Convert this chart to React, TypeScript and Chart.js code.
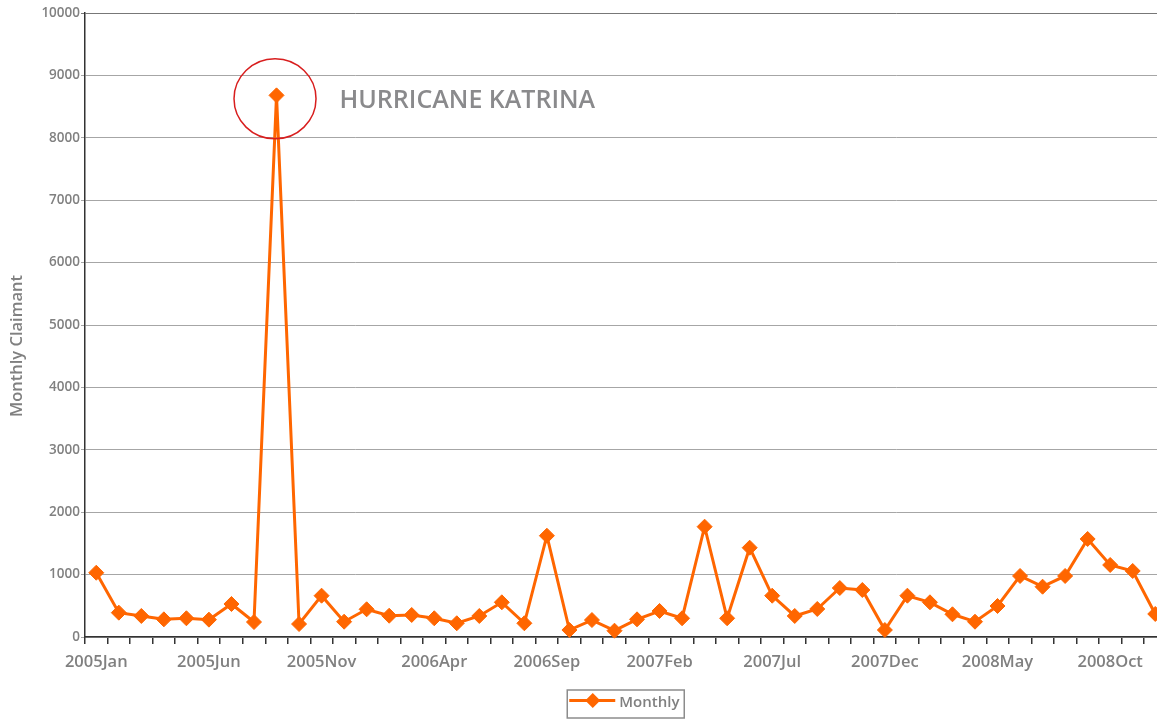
import { useEffect, useRef } from "react";
import { Chart, registerables } from "chart.js";

Chart.register(...registerables);

// Month labels along the x axis (every month, only every fifth one is printed)
const categories = [
  "2005Jan", "2005Feb", "2005Mar", "2005Apr", "2005May", "2005Jun",
  "2005Jul", "2005Aug", "2005Sep", "2005Oct", "2005Nov", "2005Dec",
  "2006Jan", "2006Feb", "2006Mar", "2006Apr", "2006May", "2006Jun",
  "2006Jul", "2006Aug", "2006Sep", "2006Oct", "2006Nov", "2006Dec",
  "2007Jan", "2007Feb", "2007Mar", "2007Apr", "2007May", "2007Jun",
  "2007Jul", "2007Aug", "2007Sep", "2007Oct", "2007Nov", "2007Dec",
  "2008Jan", "2008Feb", "2008Mar", "2008Apr", "2008May", "2008Jun",
  "2008Jul", "2008Aug", "2008Sep", "2008Oct", "2008Nov", "2008Dec",
];

// Monthly claimant counts
const monthly = [
  1030, 390, 337, 283, 300, 278, 529, 240, 8680, 208, 662, 245,
  444, 341, 353, 300, 220, 337, 556, 220, 1623, 112, 272, 101,
  283, 417, 300, 1768, 300, 1431, 662, 337, 449, 785, 753, 112,
  662, 556, 364, 245, 497, 978, 806, 978, 1571, 1154, 1058, 369,
];

const yTicks = [0, 1000, 2000, 3000, 4000, 5000, 6000, 7000, 8000, 9000, 10000];

const seriesName = "Monthly";
const axisTitle = "Monthly Claimant";
const eventLabel = "HURRICANE KATRINA";
const eventIndex = 8;
const labelEvery = 5;

const ORANGE = "#ff6600";
const GREY_TEXT = "#808080";
const FONT = "'Open Sans', 'DejaVu Sans', sans-serif";

const overlay = {
  id: "overlay",
  afterDatasetsDraw(chart: any) {
    const { ctx, chartArea } = chart;
    const meta = chart.getDatasetMeta(0);
    const pt = meta.data[eventIndex];
    ctx.save();
    // red ring around the spike
    ctx.strokeStyle = "#d81e1e";
    ctx.lineWidth = 1.5;
    ctx.beginPath();
    ctx.ellipse(pt.x - 1.5, pt.y + 3.5, 41, 40, 0, 0, Math.PI * 2);
    ctx.stroke();
    // event caption
    ctx.fillStyle = "#8a8a8c";
    ctx.font = `600 25px ${FONT}`;
    ctx.textBaseline = "alphabetic";
    ctx.textAlign = "left";
    ctx.fillText(eventLabel, pt.x + 63, pt.y + 13);
    ctx.restore();

    // y axis title
    ctx.save();
    ctx.fillStyle = GREY_TEXT;
    ctx.font = `600 16.5px ${FONT}`;
    ctx.textAlign = "center";
    ctx.textBaseline = "middle";
    ctx.translate(17, (chartArea.top + chartArea.bottom) / 2 + 21);
    ctx.rotate(-Math.PI / 2);
    ctx.fillText(axisTitle, 0, 0);
    ctx.restore();

    // boxed legend below the axis
    const cx = (chartArea.left + chartArea.right) / 2;
    const boxW = 117;
    const boxH = 28;
    const bx = cx - boxW / 2;
    const by = 690;
    ctx.save();
    ctx.strokeStyle = "#8c8c8c";
    ctx.lineWidth = 1.5;
    ctx.strokeRect(bx, by, boxW, boxH);
    const my = by + 10.5;
    ctx.strokeStyle = ORANGE;
    ctx.lineWidth = 3;
    ctx.beginPath();
    ctx.moveTo(bx + 2, my);
    ctx.lineTo(bx + 48, my);
    ctx.stroke();
    ctx.fillStyle = ORANGE;
    const mx = bx + 25.5;
    const r = 7.5;
    ctx.beginPath();
    ctx.moveTo(mx - r, my);
    ctx.lineTo(mx, my - r);
    ctx.lineTo(mx + r, my);
    ctx.lineTo(mx, my + r);
    ctx.closePath();
    ctx.fill();
    ctx.fillStyle = GREY_TEXT;
    ctx.font = `600 15px ${FONT}`;
    ctx.textAlign = "left";
    ctx.textBaseline = "middle";
    ctx.fillText(seriesName, bx + 52, by + 13);
    ctx.restore();
  },
};

export default function App() {
  const canvasRef = useRef<HTMLCanvasElement | null>(null);

  useEffect(() => {
    const canvas = canvasRef.current;
    if (!canvas) return;
    const chart = new Chart(canvas, {
      type: "line",
      data: {
        labels: categories,
        datasets: [
          {
            label: seriesName,
            data: monthly,
            borderColor: ORANGE,
            backgroundColor: ORANGE,
            borderWidth: 3,
            pointStyle: "rectRot",
            pointRadius: 7.5,
            pointBorderWidth: 1,
            pointBackgroundColor: ORANGE,
            pointBorderColor: ORANGE,
            tension: 0,
            fill: false,
            clip: false as any,
          },
        ],
      },
      options: {
        animation: false,
        responsive: false,
        devicePixelRatio: 1,
        layout: { padding: { left: 0, right: 0, top: 13, bottom: 0 } },
        plugins: {
          legend: { display: false },
          tooltip: { enabled: false },
        },
        scales: {
          x: {
            type: "category",
            offset: true,
            grid: {
              offset: true,
              drawOnChartArea: false,
              drawTicks: true,
              tickLength: 7,
              color: "#333333",
              lineWidth: 1.5,
            },
            border: { display: true, color: "#333333", width: 1.5 },
            ticks: {
              autoSkip: false,
              maxRotation: 0,
              minRotation: 0,
              padding: 8,
              color: GREY_TEXT,
              font: { family: FONT, size: 16.5, weight: 600 },
              callback: (_v: any, i: number) =>
                i % labelEvery === 0 ? categories[i] : "",
            },
            afterFit: (scale: any) => {
              scale.height = 82;
            },
          },
          y: {
            min: yTicks[0],
            max: yTicks[yTicks.length - 1],
            afterBuildTicks: (scale: any) => {
              scale.ticks = yTicks.map((v) => ({ value: v }));
            },
            grid: {
              drawTicks: true,
              tickLength: 4,
              color: (c: any) =>
                c.tick && c.tick.value === yTicks[yTicks.length - 1]
                  ? "#777777"
                  : "#a6a6a6",
              lineWidth: 1,
            },
            border: { display: true, color: "#333333", width: 1.5 },
            ticks: {
              padding: 1,
              color: GREY_TEXT,
              font: { family: FONT, size: 13.5, weight: 600 },
              callback: (v: any) => String(v),
            },
            afterFit: (scale: any) => {
              scale.width = 85;
            },
          },
        },
      },
      plugins: [overlay],
    });
    return () => chart.destroy();
  }, []);

  return (
    <div
      style={{
        position: "fixed",
        left: 0,
        top: 0,
        width: 1157,
        height: 719,
        overflow: "hidden",
        background: "#ffffff",
      }}
    >
      <canvas
        ref={canvasRef}
        width={1175}
        height={719}
        style={{ display: "block", width: 1175, height: 719 }}
      />
    </div>
  );
}
